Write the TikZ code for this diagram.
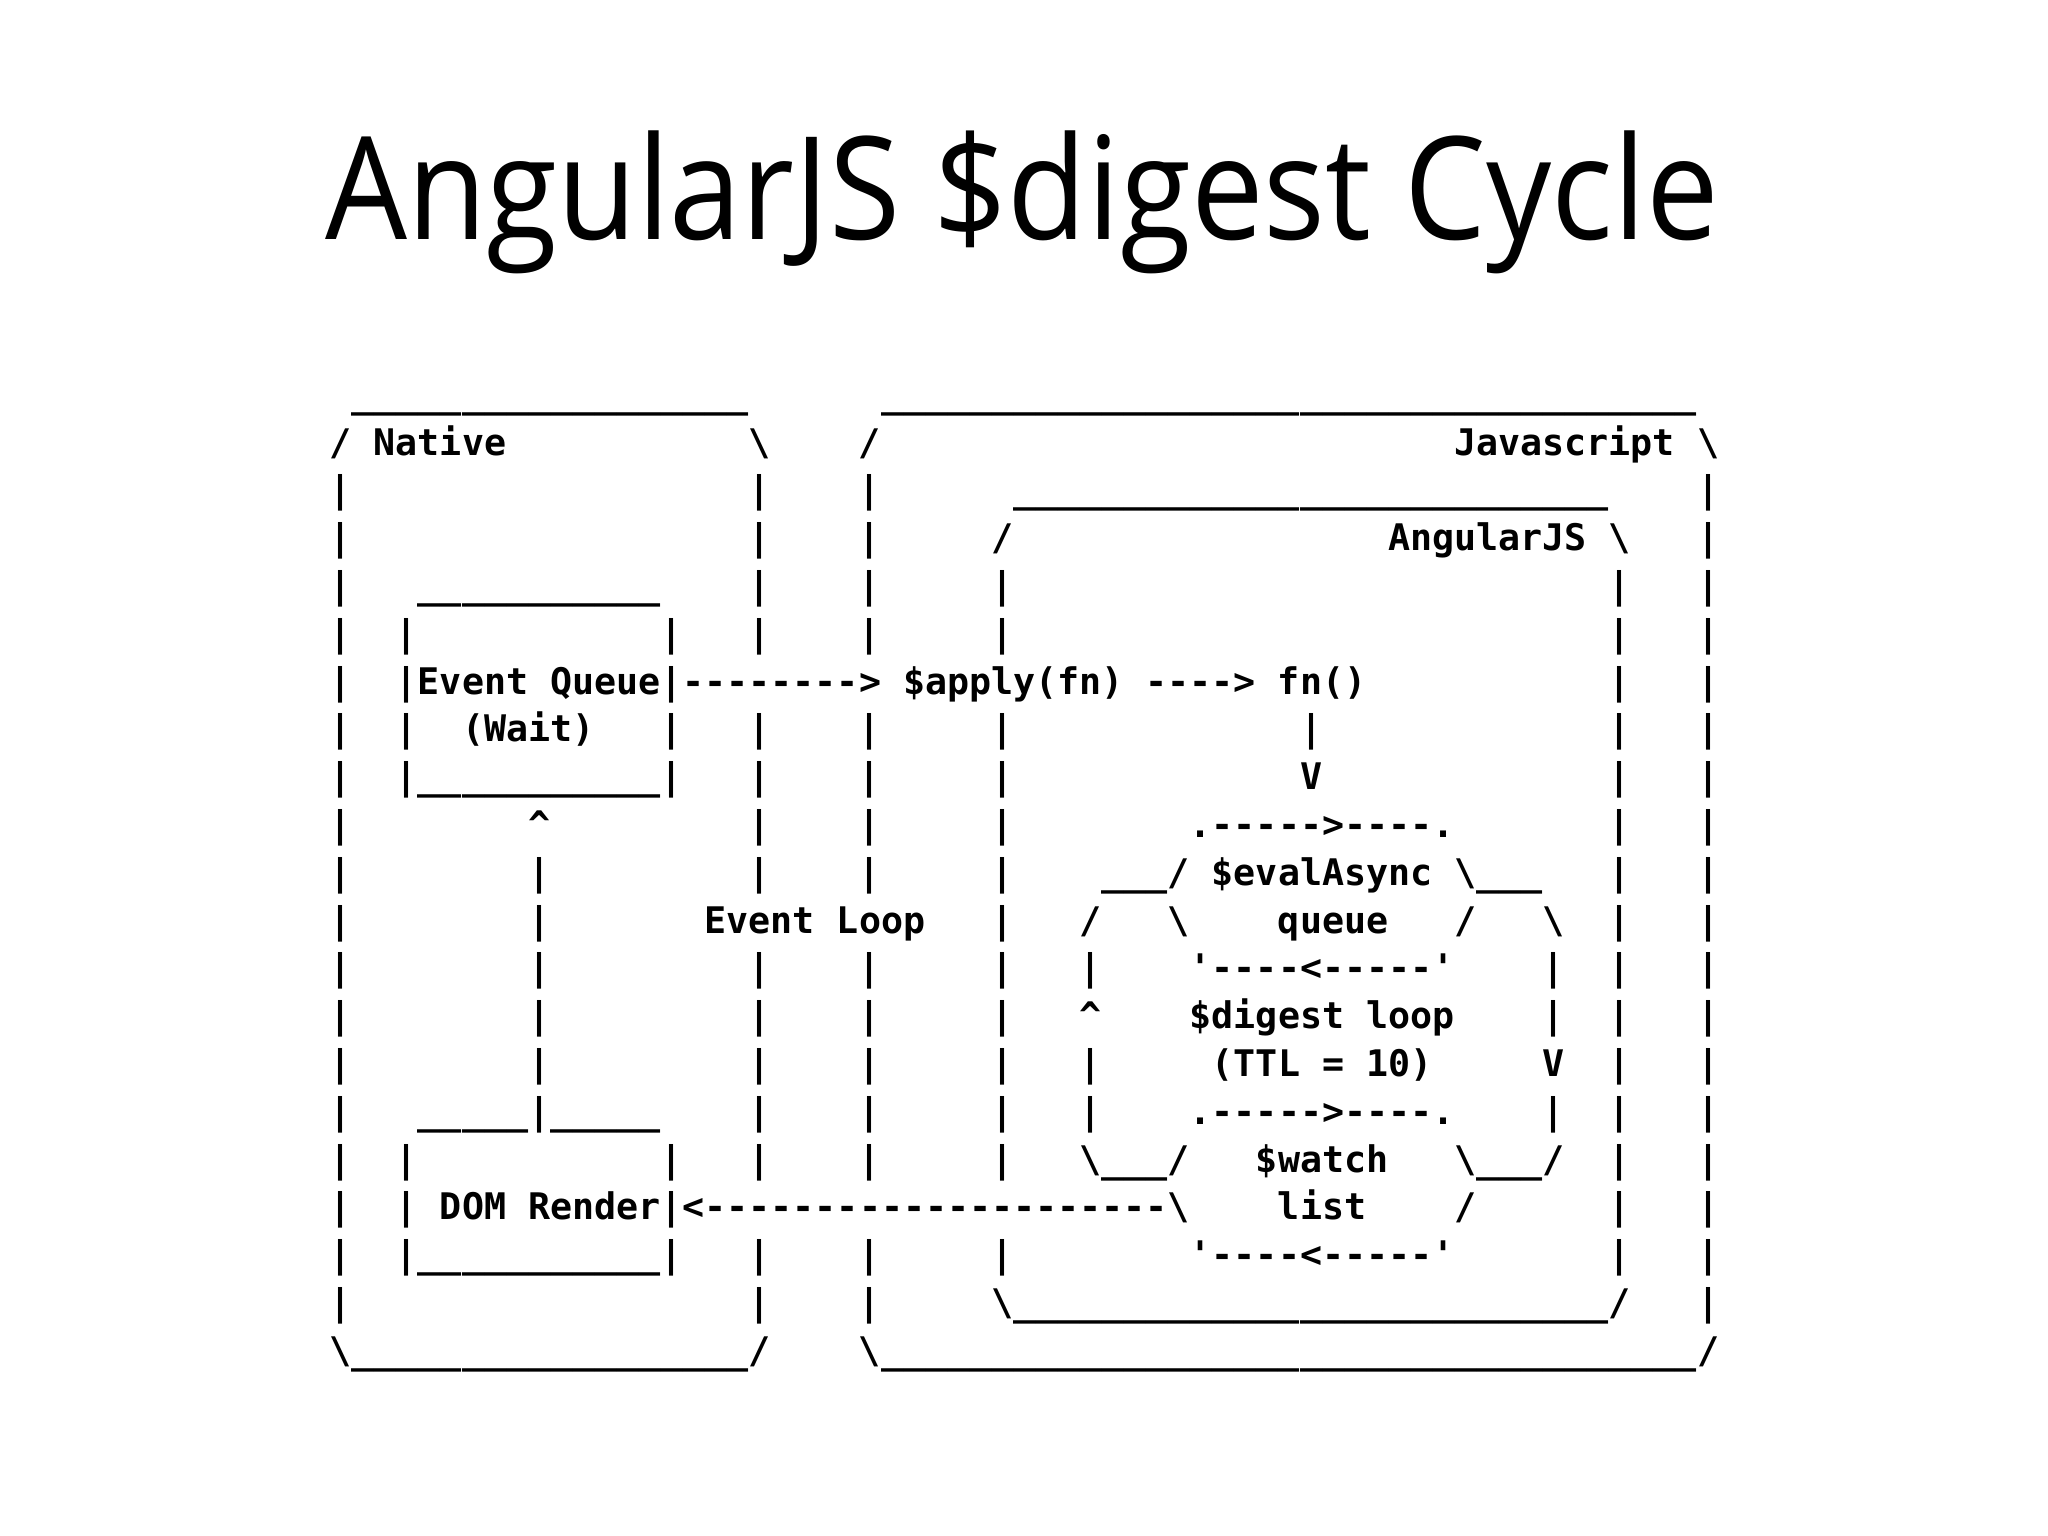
\documentclass[tikz,border=0pt]{standalone}
\usepackage{fontspec}
\usepackage{graphicx}
\setmonofont{DejaVu Sans Mono}
\newfontfamily\titlefont{Open Sans}
\newcommand{\asciifont}{\ttfamily\bfseries\fontsize{10.42pt}{12pt}\selectfont}

\begin{document}
\begin{tikzpicture}[x=0.01cm, y=-0.01cm,
    mono/.style={font=\asciifont, inner sep=0pt, outer sep=0pt, anchor=base west},
    cellat/.style 2 args={at={({329.7+22.053*(#1)},{407.2+47.8*(#2)})}}]
    \useasboundingbox[fill=white] (0,0) rectangle (2048,1536);

    % Title
    \node[font=\titlefont\fontsize{40.7pt}{48pt}\selectfont, inner sep=0pt, anchor=base] (title) at (1022,239)
        {\resizebox{13.93cm}{\height}{AngularJS \$digest Cycle}};

    % Native frame
    \foreach \c in {1,...,18} {
        \node[mono, cellat={\c}{0}] (nat-top-\c) {\_};
        \node[mono, cellat={\c}{20}] (nat-bot-\c) {\_};
    }
    \node[mono, cellat={0}{1}] (nat-tl) {/};
    \node[mono, cellat={2}{1}] (nat-lbl) {Native};
    \node[mono, cellat={19}{1}] (nat-tr) {\textbackslash};
    \node[mono, cellat={0}{20}] (nat-bl) {\textbackslash};
    \node[mono, cellat={19}{20}] (nat-br) {/};
    \foreach \r in {2,...,19}
        \node[mono, cellat={0}{\r}] (nat-w-\r) {|};
    \foreach \r in {2,3,4,5,7,8,9,10,12,13,14,15,16,18,19} {
        \node[mono, cellat={19}{\r}] (nat-e-\r) {|};
        \node[mono, cellat={24}{\r}] (js-w-\r) {|};
    }

    % Javascript frame
    \foreach \c in {25,...,61} {
        \node[mono, cellat={\c}{0}] (js-top-\c) {\_};
        \node[mono, cellat={\c}{20}] (js-bot-\c) {\_};
    }
    \node[mono, cellat={24}{1}] (js-tl) {/};
    \node[mono, cellat={51}{1}] (js-lbl) {Javascript};
    \node[mono, cellat={62}{1}] (js-tr) {\textbackslash};
    \node[mono, cellat={24}{20}] (js-bl) {\textbackslash};
    \node[mono, cellat={62}{20}] (js-br) {/};
    \foreach \r in {2,...,19}
        \node[mono, cellat={62}{\r}] (js-e-\r) {|};

    % AngularJS frame
    \foreach \c in {31,...,57} {
        \node[mono, cellat={\c}{2}] (ng-top-\c) {\_};
        \node[mono, cellat={\c}{19}] (ng-bot-\c) {\_};
    }
    \node[mono, cellat={30}{3}] (ng-tl) {/};
    \node[mono, cellat={48}{3}] (ng-lbl) {AngularJS};
    \node[mono, cellat={58}{3}] (ng-tr) {\textbackslash};
    \node[mono, cellat={30}{19}] (ng-bl) {\textbackslash};
    \node[mono, cellat={58}{19}] (ng-br) {/};
    \foreach \r in {4,5,7,8,9,10,11,12,13,14,15,16,18}
        \node[mono, cellat={30}{\r}] (ng-w-\r) {|};
    \foreach \r in {4,...,18}
        \node[mono, cellat={58}{\r}] (ng-e-\r) {|};

    % Event Queue box
    \foreach \c in {4,...,14} {
        \node[mono, cellat={\c}{4}] (eq-top-\c) {\_};
        \node[mono, cellat={\c}{8}] (eq-bot-\c) {\_};
    }
    \foreach \r in {5,...,8} {
        \node[mono, cellat={3}{\r}] (eq-w-\r) {|};
        \node[mono, cellat={15}{\r}] (eq-e-\r) {|};
    }
    \node[mono, cellat={4}{6}] (eq-lbl) {Event Queue};
    \node[mono, cellat={6}{7}] (eq-sub) {(Wait)};

    % DOM Render box
    \foreach \c in {4,...,8,10,11,12,13,14}
        \node[mono, cellat={\c}{15}] (dom-top-\c) {\_};
    \foreach \c in {4,...,14}
        \node[mono, cellat={\c}{18}] (dom-bot-\c) {\_};
    \foreach \r in {16,...,18} {
        \node[mono, cellat={3}{\r}] (dom-w-\r) {|};
        \node[mono, cellat={15}{\r}] (dom-e-\r) {|};
    }
    \node[mono, cellat={5}{17}] (dom-lbl) {DOM Render};

    % Render back up to the queue
    \node[mono, cellat={9}{9}] (up-tip) {\textasciicircum};
    \foreach \r in {10,...,15}
        \node[mono, cellat={9}{\r}] (up-\r) {|};

    % Event loop label
    \node[mono, cellat={17}{11}] (loop-lbl) {Event Loop};

    % Queue -> $apply(fn) -> fn()
    \node[mono, cellat={16}{6}] (to-apply) {-------->};
    \node[mono, cellat={26}{6}] (apply) {\$apply(fn)};
    \node[mono, cellat={37}{6}] (to-fn) {---->};
    \node[mono, cellat={43}{6}] (fn) {fn()};
    \node[mono, cellat={44}{7}] (fn-down) {|};
    \node[mono, cellat={44}{8}] (fn-tip) {V};

    % $evalAsync queue
    \node[mono, cellat={39}{9}] (ea-top) {.----->----.};
    \node[mono, cellat={35}{10}] (ea-l) {\_\_\_/};
    \node[mono, cellat={40}{10}] (ea-lbl) {\$evalAsync};
    \node[mono, cellat={51}{10}] (ea-r) {\textbackslash\_\_\_};
    \node[mono, cellat={43}{11}] (ea-sub) {queue};
    \node[mono, cellat={39}{12}] (ea-bot) {\textquotesingle----<-----\textquotesingle};

    % $digest loop sides
    \node[mono, cellat={34}{11}] (dl-l) {/};
    \node[mono, cellat={38}{11}] (ea-ls) {\textbackslash};
    \node[mono, cellat={51}{11}] (ea-rs) {/};
    \node[mono, cellat={55}{11}] (dl-r) {\textbackslash};
    \foreach \r in {12,14,15}
        \node[mono, cellat={34}{\r}] (dl-w-\r) {|};
    \node[mono, cellat={34}{13}] (dl-up) {\textasciicircum};
    \foreach \r in {12,13,15}
        \node[mono, cellat={55}{\r}] (dl-e-\r) {|};
    \node[mono, cellat={55}{14}] (dl-down) {V};
    \node[mono, cellat={39}{13}] (dl-lbl) {\$digest loop};
    \node[mono, cellat={40}{14}] (dl-sub) {(TTL = 10)};

    % $watch list
    \node[mono, cellat={39}{15}] (wl-top) {.----->----.};
    \node[mono, cellat={34}{16}] (wl-l) {\textbackslash\_\_\_/};
    \node[mono, cellat={42}{16}] (wl-lbl) {\$watch};
    \node[mono, cellat={51}{16}] (wl-r) {\textbackslash\_\_\_/};
    \node[mono, cellat={38}{17}] (wl-ls) {\textbackslash};
    \node[mono, cellat={43}{17}] (wl-sub) {list};
    \node[mono, cellat={51}{17}] (wl-rs) {/};
    \node[mono, cellat={39}{18}] (wl-bot) {\textquotesingle----<-----\textquotesingle};

    % Watch list -> DOM Render
    \node[mono, cellat={16}{17}] (to-dom) {<---------------------};

\end{tikzpicture}
\end{document}
